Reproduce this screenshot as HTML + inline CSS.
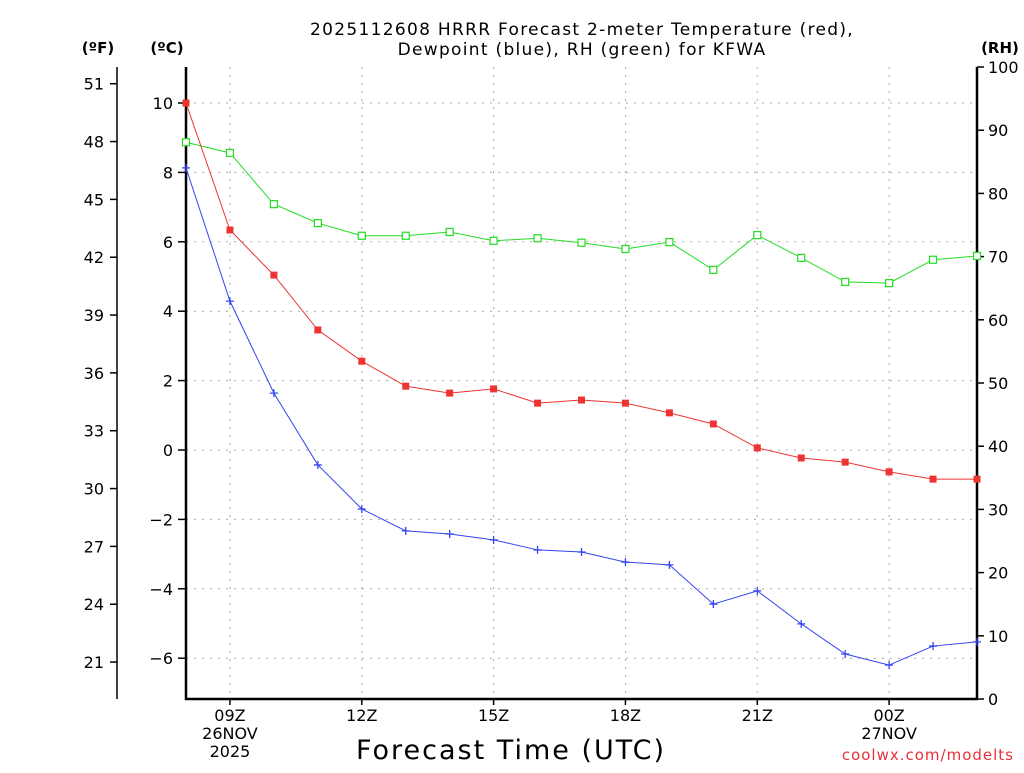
<!DOCTYPE html>
<html><head><meta charset="utf-8"><style>
body{margin:0;background:#fff;width:1024px;height:768px;overflow:hidden}
text{font-family:"DejaVu Sans","Liberation Sans",sans-serif;fill:#000}
</style></head><body>
<svg id="chart" width="1024" height="768" viewBox="0 0 1024 768">
<g id="grid"></g><g id="axes"></g><g id="series"></g>
<text x="582" y="35" text-anchor="middle" font-size="17" letter-spacing="1.3">2025112608 HRRR Forecast 2-meter Temperature (red),</text>
<text x="582" y="55" text-anchor="middle" font-size="17" letter-spacing="1.3">Dewpoint (blue), RH (green) for KFWA</text>
<text x="98" y="53" text-anchor="middle" font-size="15" font-weight="bold">(ºF)</text>
<text x="167" y="53" text-anchor="middle" font-size="15" font-weight="bold">(ºC)</text>
<text x="1000" y="53" text-anchor="middle" font-size="15" font-weight="bold">(RH)</text>
<text x="511" y="759" text-anchor="middle" font-size="27" letter-spacing="2">Forecast Time (UTC)</text>
<text x="1014" y="760" text-anchor="end" font-size="15" style="fill:#e8303a" letter-spacing="1">coolwx.com/modelts</text>
</svg>
<script>
const hours=[0,1,2,3,4,5,6,7,8,9,10,11,12,13,14,15,16,17,18];
const tempC=[10.0,6.34,5.04,3.46,2.56,1.84,1.64,1.76,1.35,1.44,1.35,1.07,0.75,0.06,-0.23,-0.35,-0.63,-0.84,-0.84];
const dewC=[8.13,4.29,1.64,-0.43,-1.70,-2.33,-2.42,-2.59,-2.88,-2.94,-3.23,-3.31,-4.44,-4.06,-5.01,-5.88,-6.20,-5.65,-5.53];
const rh=[88.1,86.4,78.3,75.3,73.3,73.3,73.9,72.5,72.9,72.2,71.2,72.3,67.9,73.4,69.8,66.0,65.8,69.5,70.1];
const cTicks=[10,8,6,4,2,0,-2,-4,-6];
const fTicks=[51,48,45,42,39,36,33,30,27,24,21];
const rhTicks=[0,10,20,30,40,50,60,70,80,90,100];
const xTickHours=[1,4,7,10,13,16];
const xTickLabels=[["09Z","26NOV","2025"],["12Z"],["15Z"],["18Z"],["21Z"],["00Z","27NOV"]];
const L=186,R=977,T=67,B=699;
const x=h=>L+h*(R-L)/18;
const yC=c=>450-c*34.7;
const yF=f=>yC((f-32)/1.8);
const yR=r=>B-r*(B-T)/100;
const NS="http://www.w3.org/2000/svg";
function mk(p,tag,at,txt){const e=document.createElementNS(NS,tag);for(const k in at)e.setAttribute(k,at[k]);if(txt!==undefined)e.textContent=txt;document.getElementById(p).appendChild(e);return e;}
cTicks.forEach(c=>{const e=mk('grid','line',{x1:L,x2:R,y1:yC(c),y2:yC(c),stroke:'#aaa','stroke-dasharray':'2,6'});


const t=mk('axes','text',{x:173,y:yC(c)+6,'text-anchor':'end','font-size':16},String(c).replace('-','\u2212'));


mk('axes','line',{x1:178,x2:186,y1:yC(c),y2:yC(c),stroke:'#000','stroke-width':1.5});});
xTickHours.forEach((h,i)=>{const e=mk('grid','line',{x1:x(h),x2:x(h),y1:T,y2:B,stroke:'#aaa','stroke-dasharray':'2,6'});


mk('axes','line',{x1:x(h),x2:x(h),y1:B,y2:B+6,stroke:'#000','stroke-width':1.5});
xTickLabels[i].forEach((s,j)=>{const t=mk('axes','text',{x:x(h),y:B+22+j*18,'text-anchor':'middle','font-size':16},s);

});});
fTicks.forEach(f=>{mk('axes','line',{x1:110,x2:117,y1:yF(f),y2:yF(f),stroke:'#000','stroke-width':1.5});
const t=mk('axes','text',{x:104,y:yF(f)+6,'text-anchor':'end','font-size':16},f);

});
rhTicks.forEach(r=>{mk('axes','line',{x1:977,x2:984,y1:yR(r),y2:yR(r),stroke:'#000','stroke-width':1.5});
const t=mk('axes','text',{x:988,y:yR(r)+6,'font-size':16},r);

});
mk('axes','line',{x1:117,x2:117,y1:T,y2:B,stroke:'#000','stroke-width':1.5});
mk('axes','polyline',{points:`${L},${T} ${L},${B} ${R},${B} ${R},${T}`,fill:'none',stroke:'#000','stroke-width':2.5});
function series(vals,yf,col,kind,name){
const p=mk('series','polyline',{points:vals.map((v,i)=>x(hours[i])+','+yf(v)).join(' '),fill:'none',stroke:col,'stroke-width':1});


vals.forEach((v,i)=>{const cx=x(hours[i]),cy=yf(v);let m;
if(kind==='fill')m=mk('series','rect',{x:cx-3.5,y:cy-3.5,width:7,height:7,fill:col});
else if(kind==='open')m=mk('series','rect',{x:cx-3.5,y:cy-3.5,width:7,height:7,fill:'#fff',stroke:col,'stroke-width':1.2});
else m=mk('series','path',{d:`M${cx-4},${cy}H${cx+4}M${cx},${cy-4}V${cy+4}`,stroke:col,'stroke-width':1.3});

});}
series(rh,yR,'#22dd22','open','rh');
series(tempC,yC,'#ee3333','fill','temperature');
series(dewC,yC,'#3344ee','plus','dewpoint');
</script>
</body></html>
